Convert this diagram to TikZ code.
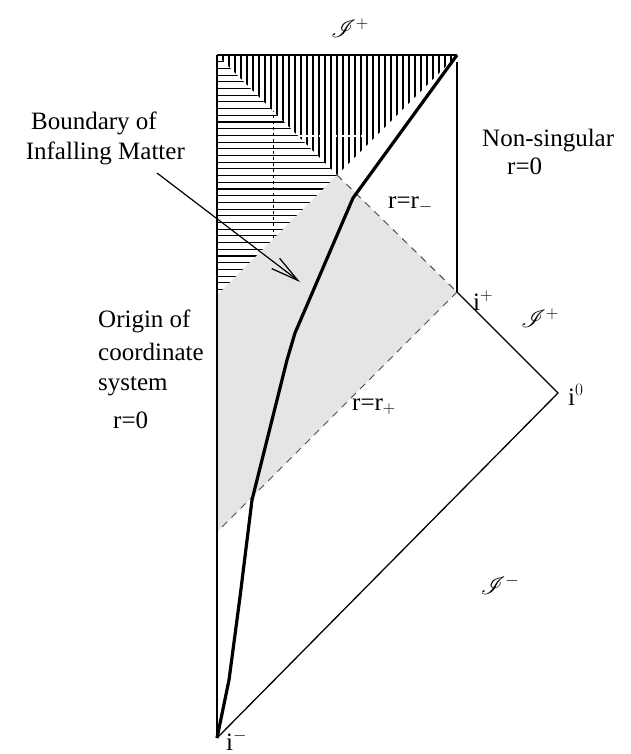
\documentclass[tikz,border=0pt]{standalone}
\usepackage{fontspec}
\setmainfont{Liberation Serif}
\usepackage{mathrsfs}
\usetikzlibrary{arrows.meta}
\begin{document}
\begin{tikzpicture}[x=1pt,y=-1pt,
  lbl/.style={font=\fontsize{25}{30}\selectfont, inner sep=0pt},
  frame/.style={line width=1.3pt},
  hatchline/.style={line width=1.1pt},
  dsh/.style={dash pattern=on 7pt off 6pt, line width=1pt, black!70},
  matter/.style={line width=3.2pt, line join=round}]
\useasboundingbox (0,0) rectangle (630,754);
% key points
\coordinate (A) at (217,55);
\coordinate (B) at (457,55);
\coordinate (C) at (337,175);
\coordinate (L) at (217,295);
\coordinate (ip) at (457,292);
\coordinate (io) at (558,393);
\coordinate (im) at (217,738);
\coordinate (G) at (217,532);
\coordinate (Rtop) at (457,62);
% gray region
\fill[black!10] (C) -- (ip) -- (G) -- (L) -- cycle;
% vertical hatch
\begin{scope}
\clip (A) -- (B) -- (C) -- cycle;
\foreach \x in {217,223,...,460} \draw[hatchline] (\x,55) -- (\x,176);
\end{scope}
% horizontal hatch
\begin{scope}
\clip (A) -- (C) -- (L) -- cycle;
\foreach \y in {55,61.7,...,296} \draw[hatchline] (217,\y) -- (338,\y);
\end{scope}
\draw[white, dash pattern=on 4pt off 3pt, line width=1.2pt] (298,136) -- (376,136);
\begin{scope}
\clip (A) -- (C) -- (L) -- cycle;
\draw[dash pattern=on 3pt off 3pt, line width=0.8pt] (273,55) -- (273,240);
\end{scope}
% dashed horizons
\draw[dsh] (C) -- (ip);
\draw[dsh] (ip) -- (G);
% frame
\draw[line width=2.5pt] (A) -- (B);
\draw[frame] (A) -- (im);
\draw[frame] (Rtop) -- (ip);
\draw[frame] (ip) -- (io) -- (im);
% infalling matter
\draw[matter] (im) -- (229,680) -- (240,597) -- (252,500) -- (287,360) -- (295,333) -- (353,198) -- (B);
% arrow
\coordinate (arrS) at (157,173);
\coordinate (arrT) at (300,282);
\draw[line width=1.2pt, -{Straight Barb[length=28pt,width=13pt,line width=1.2pt]}] (arrS) -- (arrT);
% labels
\node[lbl, anchor=base east] (b1) at (157,130) {Boundary of};
\node[lbl, anchor=base east] (b2) at (185,160) {Infalling Matter};
\node[lbl, anchor=base west] (o1) at (98,327) {Origin of};
\node[lbl, anchor=base west] (o2) at (98,360) {coordinate};
\node[lbl, anchor=base west] (o3) at (98,390) {system};
\node[lbl, anchor=base west] (o4) at (113,428) {r=0};
\node[lbl, anchor=base west] (n1) at (482,147) {Non-singular};
\node[lbl, anchor=base west] (n2) at (507,175) {r=0};
\node[lbl, anchor=base west] (rm) at (388,208) {r=r$_{-}$};
\node[lbl, anchor=base west] (rp) at (352,410) {r=r$_{+}$};
\node[lbl, anchor=base west] (lip) at (473,310) {i$^{+}$};
\node[lbl, anchor=base west] (lio) at (568,405) {i$^{0}$};
\node[lbl, anchor=base west] (lim) at (226,750) {i$^{-}$};
\node[lbl] (s1) at (350,28) {$\mathscr{I}^{+}$};
\node[lbl] (s2) at (540,318) {$\mathscr{I}^{+}$};
\node[lbl] (s3) at (500,585) {$\mathscr{I}^{-}$};
\end{tikzpicture}
\end{document}
